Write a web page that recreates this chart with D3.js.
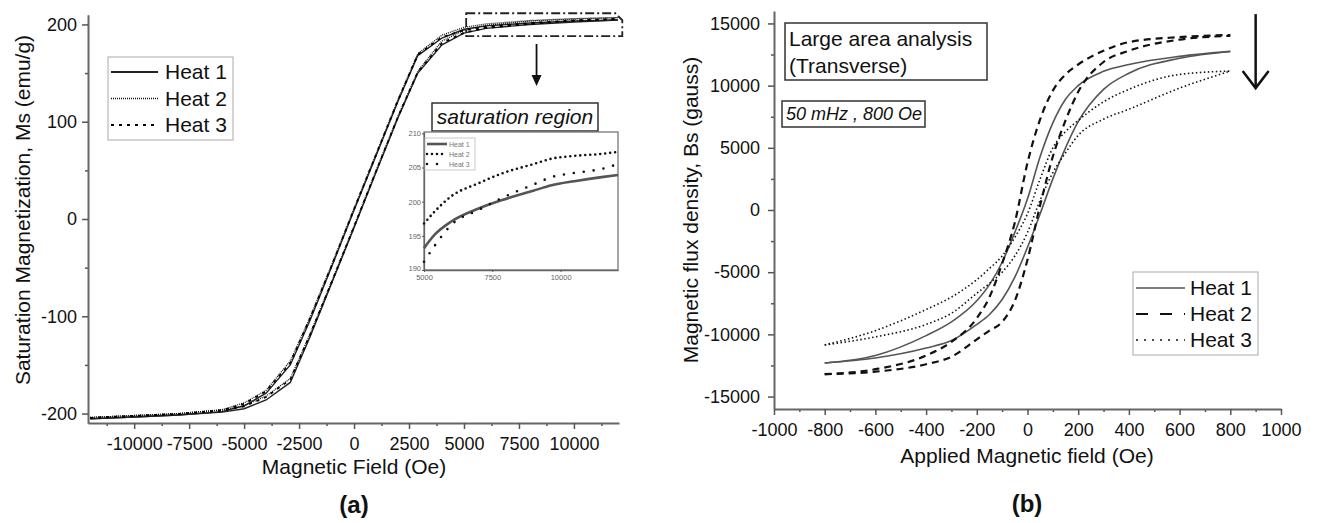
<!DOCTYPE html>
<html>
<head>
<meta charset="utf-8">
<script src="https://cdn.jsdelivr.net/npm/d3@7"></script>
<style>
body { margin: 0; background: #fff; }
svg { font-family: "Liberation Sans", Arial, sans-serif; }
</style>
</head>
<body>
<svg id="svg" width="1319" height="523"></svg>
<script>
// ---- data, panel (a): M vs H, two branches per heat
var aH = [-12000, -10000, -8000, -6000, -5000, -4000, -2900, -2000, -1000, 0, 1000, 2000, 2900, 4000, 5000, 6000, 8000, 10000, 12000];
var a1Down = [-205.5, -203.5, -201.5, -198, -192, -179, -150, -104, -48, 9, 65, 121, 168, 186, 195, 198.5, 201.5, 203.5, 204.5];
var a1Up = [-205.5, -203.5, -201.5, -198.5, -195, -186, -168, -121, -65, -9, 48, 104, 150, 179, 191, 196, 200, 202.5, 204.5];
var a2Down = [-204, -202, -200, -196, -189, -176, -146, -101, -46, 11, 67, 123, 170, 189, 197, 200.5, 204, 206, 207];
var a2Up = [-204, -202, -200, -196.5, -192, -182, -164, -118, -63, -7, 50, 106, 152, 183, 194, 199, 203.5, 205.5, 207];
var a3Down = [-204.5, -202.5, -200.5, -196.5, -190, -177, -148, -102, -47, 10, 66, 122, 169, 187, 194, 197.5, 201.5, 204, 205.5];
var a3Up = [-204.5, -202.5, -200.5, -197, -192.5, -183, -165, -119, -64, -8, 49, 105, 151, 181, 191.5, 196.5, 200.5, 204, 205.5];

// inset: saturation region
var iH = [5000, 5400, 6000, 7000, 7830, 9000, 9670, 10500, 11500, 12100];
var i1 = [193.2, 195.2, 197.1, 199.0, 200.2, 201.6, 202.4, 203.0, 203.6, 203.9];
var i2 = [196.8, 198.6, 200.8, 202.7, 204.1, 205.5, 206.3, 206.7, 207.0, 207.3];
var i3 = [191.2, 193.6, 196.6, 198.8, 200.5, 202.5, 203.6, 204.2, 204.8, 205.5];

// ---- data, panel (b): B vs H
var bH = [-800, -600, -400, -300, -200, -150, -100, -50, 0, 50, 100, 150, 200, 300, 400, 600, 800];
var b1Down = [-12300, -11700, -10100, -9000, -7300, -6000, -4200, -1800, 900, 4300, 7000, 8900, 10000, 11150, 11700, 12350, 12750];
var b1Up = [-12300, -11900, -11100, -10500, -9200, -8400, -7200, -5400, -3000, -300, 2500, 5000, 7100, 9700, 11000, 12200, 12750];
var b2Down = [-13200, -12800, -11700, -10600, -8700, -7000, -4300, -1000, 3800, 7300, 9600, 10900, 11700, 12800, 13500, 13900, 14070];
var b2Up = [-13200, -13000, -12400, -11800, -10400, -9700, -9000, -7300, -4000, 400, 4300, 7200, 9500, 11900, 12800, 13700, 14000];
var b3Down = [-10850, -9700, -8000, -7000, -5600, -4700, -3700, -2200, -300, 2500, 5000, 6300, 7200, 8700, 9700, 10900, 11170];
var b3Up = [-10850, -10200, -9200, -8300, -6700, -5900, -5000, -3700, -1800, 800, 3000, 4600, 6000, 7300, 8100, 9800, 11170];

var legendNames = ["Heat 1", "Heat 2", "Heat 3"];
var aXTicks = [-10000, -7500, -5000, -2500, 0, 2500, 5000, 7500, 10000];
var aYTicks = [-200, -100, 0, 100, 200];
var iXTicks = [5000, 7500, 10000];
var iYTicks = [190, 195, 200, 205, 210];
var bXTicks = [-1000, -800, -600, -400, -200, 0, 200, 400, 600, 800, 1000];
var bYTicks = [-15000, -10000, -5000, 0, 5000, 10000, 15000];

var svg = d3.select("#svg");
var font = '"Liberation Sans", Arial, sans-serif';

var xa = d3.scaleLinear().domain([-12100, 12050]).range([88, 619]);
var ya = d3.scaleLinear().domain([-210, 210]).range([423.3, 14.7]);
var xi = d3.scaleLinear().domain([5000, 12100]).range([424, 618]);
var yi = d3.scaleLinear().domain([190, 210.2]).range([270, 132]);
var xb = d3.scaleLinear().domain([-1000, 1000]).range([774, 1281]);
var yb = d3.scaleLinear().domain([-16000, 16000]).range([409, 11]);

function styleAxis(g, size, color, w){
	g.select(".domain").attr("stroke", "#666").attr("stroke-width", w);
	g.selectAll(".tick line").attr("stroke", "#555").attr("stroke-width", w * 0.75);
	g.selectAll(".tick text").attr("font-size", size).attr("fill", color).attr("font-family", font);
}

function minorTicks(g, axis, vals, len, w){
	g.call(axis.tickValues(vals).tickSize(len).tickFormat(""));
	g.select(".domain").remove();
	g.selectAll(".tick line").attr("stroke", "#555").attr("stroke-width", w);
}

function curve(xs, ys, vals, keys, curveType){
	return d3.line().curve(curveType)
		.x(function(d, i){ return xs(keys[i]); })
		.y(function(d){ return ys(d); })(vals);
}

function label(x, y, txt, size, opts){
	opts = opts || {};
	var t = svg.append("text").attr("x", x).attr("y", y).text(txt)
		.attr("font-size", size).attr("fill", opts.fill || "#111")
		.attr("text-anchor", opts.anchor || "middle");
	if(opts.bold) t.attr("font-weight", "bold");
	if(opts.italic) t.attr("font-style", "italic");
	if(opts.rotate) t.attr("transform", "rotate(-90," + x + "," + y + ")");
	return t;
}

// ================= panel (a) =================
var fmt = function(d){ return String(d); };

svg.append("g").attr("transform", "translate(0,423)")
	.call(function(g){ minorTicks(g, d3.axisBottom(xa), d3.range(-11250, 12000, 2500), 3, 1.5); });
svg.append("g").attr("transform", "translate(88,0)")
	.call(function(g){ minorTicks(g, d3.axisLeft(ya), d3.range(-150, 200, 100), 3, 1.5); });

var gax = svg.append("g").attr("transform", "translate(0,423)")
	.call(d3.axisBottom(xa).tickValues(aXTicks).tickSize(6).tickSizeOuter(0).tickPadding(8).tickFormat(fmt));
styleAxis(gax, 18, "#111", 2);
var gay = svg.append("g").attr("transform", "translate(88,0)")
	.call(d3.axisLeft(ya).tickValues(aYTicks).tickSize(6).tickSizeOuter(0).tickPadding(5).tickFormat(fmt));
styleAxis(gay, 18, "#111", 2);

label(354, 474, "Magnetic Field (Oe)", 21);
label(30, 210, "Saturation Magnetization, Ms (emu/g)", 21, {rotate: true});
label(354, 513, "(a)", 24, {bold: true});

var aSeries = [
	{vals: [a1Down, a1Up], dash: null, w: 1.4, c: "#222"},
	{vals: [a2Down, a2Up], dash: "1,1", w: 1.3, c: "#111"},
	{vals: [a3Down, a3Up], dash: "3,5", w: 1.8, c: "#000"}
];
aSeries.forEach(function(s){
	s.vals.forEach(function(v){
		svg.append("path").attr("d", curve(xa, ya, v, aH, d3.curveLinear))
			.attr("fill", "none").attr("stroke", s.c).attr("stroke-width", s.w)
			.attr("stroke-dasharray", s.dash);
	});
});

// legend (a)
svg.append("rect").attr("x", 108).attr("y", 57).attr("width", 125).attr("height", 83)
	.attr("fill", "#fff").attr("stroke", "#aaa").attr("stroke-width", 1);
legendNames.forEach(function(n, i){
	var yy = 72 + i * 26.5;
	svg.append("line").attr("x1", 111).attr("x2", 158).attr("y1", yy).attr("y2", yy)
		.attr("stroke", aSeries[i].c).attr("stroke-width", aSeries[i].w + 0.4)
		.attr("stroke-dasharray", aSeries[i].dash);
	label(165, yy + 7, n, 21, {anchor: "start"});
});

// dash-dot selection box + arrow
svg.append("path")
	.attr("d", "M" + xa(5100) + "," + ya(211.5) + " H" + (xa(12200) - 7) + " L" + xa(12200) + "," + (ya(211.5) + 7) +
		" V" + ya(188) + " H" + xa(5100) + " Z")
	.attr("fill", "none").attr("stroke", "#222").attr("stroke-width", 1.8).attr("stroke-dasharray", "9,3,2,3");
svg.append("line").attr("x1", xa(8300)).attr("x2", xa(8300)).attr("y1", 44).attr("y2", 76)
	.attr("stroke", "#111").attr("stroke-width", 1.8);
svg.append("path").attr("d", "M" + (xa(8300) - 5) + ",75 L" + (xa(8300) + 5) + ",75 L" + xa(8300) + ",86 Z")
	.attr("fill", "#111");

// saturation region label
svg.append("rect").attr("x", 432).attr("y", 103).attr("width", 166).attr("height", 28)
	.attr("fill", "#fff").attr("stroke", "#333").attr("stroke-width", 1.5);
label(515, 124, "saturation region", 21, {italic: true});

// inset
svg.append("rect").attr("x", xi(5000)).attr("y", yi(210.2)).attr("width", xi(12100) - xi(5000))
	.attr("height", yi(190) - yi(210.2)).attr("fill", "#fff").attr("stroke", "#777").attr("stroke-width", 1.3);
var gix = svg.append("g").attr("transform", "translate(0," + yi(190) + ")")
	.call(d3.axisBottom(xi).tickValues(iXTicks).tickSize(2).tickSizeOuter(0).tickPadding(3).tickFormat(fmt));
styleAxis(gix, 7.5, "#666", 1.3);
var giy = svg.append("g").attr("transform", "translate(" + xi(5000) + ",0)")
	.call(d3.axisLeft(yi).tickValues(iYTicks).tickSize(2).tickSizeOuter(0).tickPadding(1).tickFormat(fmt));
styleAxis(giy, 7.5, "#666", 1.3);
giy.selectAll(".tick text").filter(function(d){ return d === 190; }).attr("dy", "0.1em");

var iSeries = [
	{vals: i1, dash: null, w: 2.6, c: "#555", cap: "butt"},
	{vals: i2, dash: "0,5", w: 2.6, c: "#111", cap: "round"},
	{vals: i3, dash: "0,10", w: 2.6, c: "#111", cap: "round"}
];
iSeries.forEach(function(s){
	svg.append("path").attr("d", curve(xi, yi, s.vals, iH, d3.curveMonotoneX))
		.attr("fill", "none").attr("stroke", s.c).attr("stroke-width", s.w)
		.attr("stroke-linecap", s.cap).attr("stroke-dasharray", s.dash);
});
svg.append("rect").attr("x", 425).attr("y", 138).attr("width", 50).attr("height", 32)
	.attr("fill", "#fff").attr("stroke", "#bbb").attr("stroke-width", 0.8);
legendNames.forEach(function(n, i){
	var yy = 144 + i * 10;
	svg.append("line").attr("x1", 427).attr("x2", 447).attr("y1", yy).attr("y2", yy)
		.attr("stroke", iSeries[i].c).attr("stroke-width", iSeries[i].w)
		.attr("stroke-linecap", iSeries[i].cap).attr("stroke-dasharray", iSeries[i].dash);
	label(449, yy + 2.5, n, 7, {anchor: "start", fill: "#777"});
});

// ================= panel (b) =================
svg.append("g").attr("transform", "translate(0,409)")
	.call(function(g){ minorTicks(g, d3.axisBottom(xb), d3.range(-900, 1000, 200), 3, 1.5); });
svg.append("g").attr("transform", "translate(774,0)")
	.call(function(g){ minorTicks(g, d3.axisLeft(yb), d3.range(-12500, 15000, 5000), 3, 1.5); });

var gbx = svg.append("g").attr("transform", "translate(0,409)")
	.call(d3.axisBottom(xb).tickValues(bXTicks).tickSize(6).tickSizeOuter(0).tickPadding(8).tickFormat(fmt));
styleAxis(gbx, 18, "#111", 2);
var gby = svg.append("g").attr("transform", "translate(774,0)")
	.call(d3.axisLeft(yb).tickValues(bYTicks).tickSize(6).tickSizeOuter(0).tickPadding(8).tickFormat(fmt));
styleAxis(gby, 18, "#111", 2);

label(1027, 463, "Applied Magnetic field (Oe)", 21);
label(698, 210, "Magnetic flux density, Bs (gauss)", 21, {rotate: true});
label(1027, 512, "(b)", 24, {bold: true});

var bSeries = [
	{vals: [b1Down, b1Up], dash: null, w: 1.6, c: "#555"},
	{vals: [b2Down, b2Up], dash: "7,5", w: 2.2, c: "#111"},
	{vals: [b3Down, b3Up], dash: "1.5,2.5", w: 1.6, c: "#111"}
];
bSeries.forEach(function(s){
	s.vals.forEach(function(v){
		svg.append("path").attr("d", curve(xb, yb, v, bH, d3.curveMonotoneX))
			.attr("fill", "none").attr("stroke", s.c).attr("stroke-width", s.w)
			.attr("stroke-dasharray", s.dash);
	});
});

// text boxes
svg.append("rect").attr("x", 785).attr("y", 23).attr("width", 202).attr("height", 57)
	.attr("fill", "#fff").attr("stroke", "#333").attr("stroke-width", 1.5);
label(789, 46, "Large area analysis", 21, {anchor: "start"});
label(789, 73, "(Transverse)", 21, {anchor: "start"});
svg.append("rect").attr("x", 782).attr("y", 101).attr("width", 143).attr("height", 26)
	.attr("fill", "#fff").attr("stroke", "#333").attr("stroke-width", 1.5);
label(786, 120, "50 mHz , 800 Oe", 18, {anchor: "start", italic: true});

// arrow (b)
svg.append("line").attr("x1", xb(900)).attr("x2", xb(900)).attr("y1", yb(15750)).attr("y2", yb(9800))
	.attr("stroke", "#111").attr("stroke-width", 2.5);
svg.append("path")
	.attr("d", "M" + (xb(900) - 13) + "," + (yb(9800) - 17) + " L" + xb(900) + "," + yb(9800) +
		" L" + (xb(900) + 13) + "," + (yb(9800) - 17))
	.attr("fill", "none").attr("stroke", "#111").attr("stroke-width", 2.5);

// legend (b)
svg.append("rect").attr("x", 1133).attr("y", 272).attr("width", 125).attr("height", 83)
	.attr("fill", "#fff").attr("stroke", "#aaa").attr("stroke-width", 1);
legendNames.forEach(function(n, i){
	var yy = 288 + i * 26;
	svg.append("line").attr("x1", 1136).attr("x2", 1185).attr("y1", yy).attr("y2", yy)
		.attr("stroke", bSeries[i].c).attr("stroke-width", bSeries[i].w)
		.attr("stroke-dasharray", i === 1 ? "12,12" : bSeries[i].dash === null ? null : "2,6");
	label(1190, yy + 7, n, 21, {anchor: "start"});
});
</script>
</body>
</html>
